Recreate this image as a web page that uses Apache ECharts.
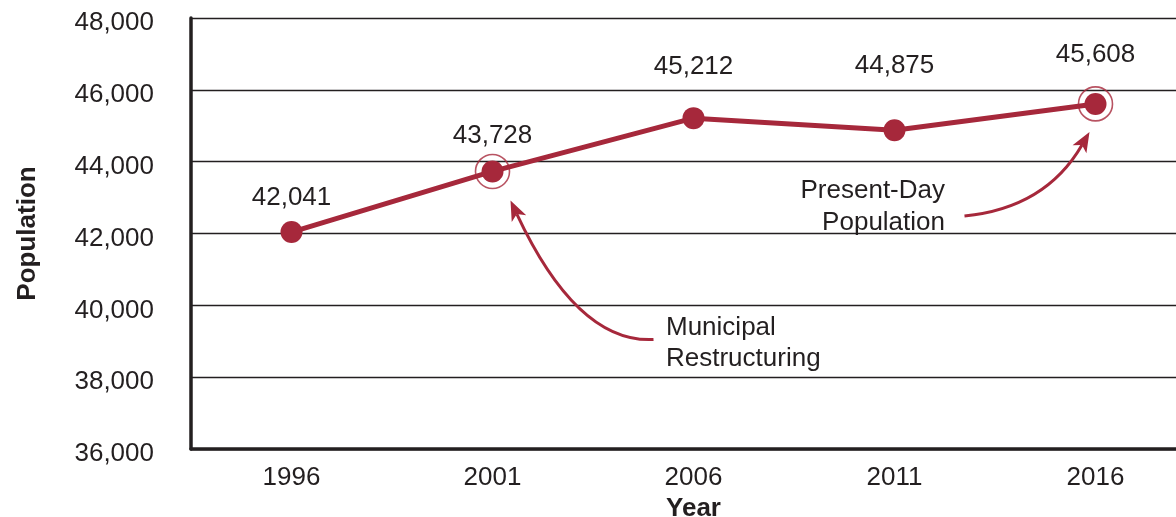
<!DOCTYPE html>
<html>
<head>
<meta charset="utf-8">
<script src="https://cdn.jsdelivr.net/npm/echarts@6/dist/echarts.min.js"></script>
<style>
html,body{margin:0;padding:0;background:#fff;}
#chart{width:1176px;height:517px;}
</style>
</head>
<body>
<div id="chart"></div>
<script>
// ---- data ----
const years = ['1996', '2001', '2006', '2011', '2016'];
const population = [42041, 43728, 45212, 44875, 45608];
const highlighted = [null, 43728, null, null, 45608];
const yTicks = { min: 36000, max: 48000, interval: 2000 };
const annotations = ['Municipal\nRestructuring', 'Present-Day\nPopulation'];

// ---- styles / layout ----
const RED = '#A6283B';
const INK = '#231f20';
const FONT = 'Liberation Sans, Arial, Helvetica, sans-serif';
const labelDy = [-34, -36, -51, -64, -49];

const chart = echarts.init(document.getElementById('chart'), null, { renderer: 'canvas' });

const option = {
  animation: false,
  backgroundColor: '#fff',
  grid: { left: 191, top: 18, bottom: 68, right: -20, containLabel: false, outerBoundsMode: 'none' },
  xAxis: {
    type: 'category',
    data: years,
    boundaryGap: true,
    name: 'Year',
    nameLocation: 'middle',
    nameGap: 44,
    nameTextStyle: { fontFamily: FONT, fontSize: 26, fontWeight: 'bold', color: INK },
    axisLine: { show: true, lineStyle: { color: INK, width: 3.5 } },
    axisTick: { show: false },
    axisLabel: { margin: 16, fontFamily: FONT, fontSize: 26, color: INK },
    splitLine: { show: false }
  },
  yAxis: {
    type: 'value',
    min: yTicks.min,
    max: yTicks.max,
    interval: yTicks.interval,
    name: 'Population',
    nameLocation: 'middle',
    nameRotate: 90,
    nameGap: 150,
    nameTextStyle: { fontFamily: FONT, fontSize: 26, fontWeight: 'bold', color: INK },
    axisLine: { show: true, lineStyle: { color: INK, width: 3.5 } },
    axisTick: { show: false },
    axisLabel: {
      margin: 37, fontFamily: FONT, fontSize: 26, color: INK,
      formatter: v => '{t|' + v.toLocaleString('en-US') + '}',
      rich: { t: { fontFamily: FONT, fontSize: 26, color: INK, padding: [10, 0, 0, 0] } }
    },
    splitLine: { show: true, lineStyle: { color: INK, width: 1.4 } }
  },
  series: [
    {
      type: 'line',
      data: population.map((v, i) => ({
        value: v,
        label: { offset: [0, labelDy[i]] }
      })),
      symbol: 'circle',
      symbolSize: 22,
      lineStyle: { color: RED, width: 5 },
      itemStyle: { color: RED },
      label: {
        show: true,
        position: 'inside',
        fontFamily: FONT,
        fontSize: 26,
        color: INK,
        formatter: p => p.value.toLocaleString('en-US')
      },
      z: 3,
      silent: true
    },
    {
      type: 'scatter',
      data: highlighted,
      symbol: 'circle',
      symbolSize: 34,
      itemStyle: { color: 'rgba(0,0,0,0)', borderColor: RED, borderWidth: 1.6 },
      z: 2,
      silent: true
    }
  ]
};
chart.setOption(option);

function arrowGroup(tail, ctrl, tip) {
  const dx = tip[0] - ctrl[0], dy = tip[1] - ctrl[1];
  const len = Math.sqrt(dx * dx + dy * dy);
  const d = [dx / len, dy / len];
  const n = [-d[1], d[0]];
  const L = 20, W = 8, notch = 5;
  const base = [tip[0] - d[0] * L, tip[1] - d[1] * L];
  const shaftEnd = [tip[0] - d[0] * (L - notch), tip[1] - d[1] * (L - notch)];
  return [
    {
      type: 'bezierCurve',
      shape: { x1: tail[0], y1: tail[1], cpx1: ctrl[0], cpy1: ctrl[1], x2: shaftEnd[0], y2: shaftEnd[1] },
      style: { stroke: RED, lineWidth: 3, fill: null },
      silent: true, z: 10
    },
    {
      type: 'polygon',
      shape: {
        points: [
          tip,
          [base[0] + n[0] * W, base[1] + n[1] * W],
          shaftEnd,
          [base[0] - n[0] * W, base[1] - n[1] * W]
        ]
      },
      style: { fill: RED },
      silent: true, z: 10
    }
  ];
}

const p1 = chart.convertToPixel({ seriesIndex: 0 }, [1, population[1]]);
const p2 = chart.convertToPixel({ seriesIndex: 0 }, [4, population[4]]);
const add = (p, o) => [p[0] + o[0], p[1] + o[1]];

const elements = []
  .concat(arrowGroup(add(p1, [161, 168]), add(p1, [85, 172]), add(p1, [18, 29])))
  .concat(arrowGroup(add(p2, [-131, 112]), add(p2, [-50, 104]), add(p2, [-6, 28])))
  .concat([
    {
      type: 'text', x: 666, y: 343, silent: true, z: 10,
      style: {
        text: annotations[0], font: '26px ' + FONT, fill: INK,
        textAlign: 'left', textVerticalAlign: 'middle', lineHeight: 31
      }
    },
    {
      type: 'text', x: 945, y: 207, silent: true, z: 10,
      style: {
        text: annotations[1], font: '26px ' + FONT, fill: INK,
        textAlign: 'right', textVerticalAlign: 'middle', lineHeight: 32
      }
    }
  ]);

chart.setOption({ graphic: { elements: elements } });
</script>
</body>
</html>
